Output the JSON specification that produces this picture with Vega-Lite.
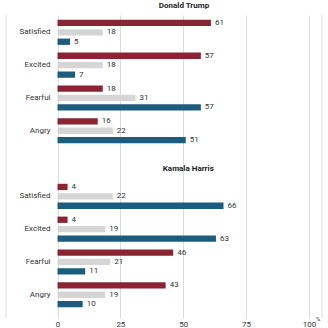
{
  "$schema": "https://vega.github.io/schema/vega-lite/v6.json",
  "width": 316,
  "height": 303,
  "autosize": {"type": "none"},
  "padding": {"left": 6, "top": 15, "right": 6, "bottom": 10},
  "background": "white",
  "config": {"font": "Roboto", "view": {"stroke": null}},
  "title": {"text": "Donald Trump", "fontSize": 8, "fontWeight": "bold", "font": "Roboto", "color": "#222", "anchor": "middle", "dx": 20, "offset": 5},
  "datasets": {
    "bars": [
      {"row": "DT|Satisfied", "series": "Trump supporters", "value": 61},
      {"row": "DT|Satisfied", "series": "Other voters", "value": 18},
      {"row": "DT|Satisfied", "series": "Harris supporters", "value": 5},
      {"row": "DT|Excited", "series": "Trump supporters", "value": 57},
      {"row": "DT|Excited", "series": "Other voters", "value": 18},
      {"row": "DT|Excited", "series": "Harris supporters", "value": 7},
      {"row": "DT|Fearful", "series": "Trump supporters", "value": 18},
      {"row": "DT|Fearful", "series": "Other voters", "value": 31},
      {"row": "DT|Fearful", "series": "Harris supporters", "value": 57},
      {"row": "DT|Angry", "series": "Trump supporters", "value": 16},
      {"row": "DT|Angry", "series": "Other voters", "value": 22},
      {"row": "DT|Angry", "series": "Harris supporters", "value": 51},
      {"row": "KH|Satisfied", "series": "Trump supporters", "value": 4},
      {"row": "KH|Satisfied", "series": "Other voters", "value": 22},
      {"row": "KH|Satisfied", "series": "Harris supporters", "value": 66},
      {"row": "KH|Excited", "series": "Trump supporters", "value": 4},
      {"row": "KH|Excited", "series": "Other voters", "value": 19},
      {"row": "KH|Excited", "series": "Harris supporters", "value": 63},
      {"row": "KH|Fearful", "series": "Trump supporters", "value": 46},
      {"row": "KH|Fearful", "series": "Other voters", "value": 21},
      {"row": "KH|Fearful", "series": "Harris supporters", "value": 11},
      {"row": "KH|Angry", "series": "Trump supporters", "value": 43},
      {"row": "KH|Angry", "series": "Other voters", "value": 19},
      {"row": "KH|Angry", "series": "Harris supporters", "value": 10}
    ],
    "heads": [
      {"row": "Kamala Harris", "label": "Kamala Harris", "value": 50}
    ]
  },
  "encoding": {
    "y": {
      "field": "row",
      "type": "nominal",
      "scale": {
        "domain": ["DT|Satisfied", "DT|Excited", "DT|Fearful", "DT|Angry", "Kamala Harris", "KH|Satisfied", "KH|Excited", "KH|Fearful", "KH|Angry"],
        "paddingInner": 0,
        "paddingOuter": 0.119,
        "align": 0.12
      },
      "axis": {
        "title": null,
        "domain": false,
        "ticks": false,
        "grid": false,
        "offset": -44,
        "labelPadding": 0,
        "labelFontSize": 8,
        "labelFont": "Roboto",
        "labelColor": "#333",
        "labelExpr": "indexof(datum.value, '|') >= 0 ? split(datum.value, '|')[1] : ''"
      }
    }
  },
  "layer": [
    {
      "data": {"name": "bars"},
      "mark": {"type": "bar"},
      "encoding": {
        "x": {
          "field": "value",
          "type": "quantitative",
          "scale": {"domain": [-20.48, 105.17], "nice": false, "zero": false},
          "axis": {
            "title": null,
            "values": [0, 25, 50, 75, 100],
            "grid": true,
            "gridColor": "#dcdcdc",
            "gridWidth": 1,
            "domain": false,
            "ticks": false,
            "labelPadding": 2,
            "labelFontSize": 8,
            "labelFont": "Roboto",
            "labelColor": "#333"
          }
        },
        "x2": {"datum": 0},
        "yOffset": {
          "field": "series",
          "type": "nominal",
          "scale": {"domain": ["Trump supporters", "Other voters", "Harris supporters"], "paddingInner": 0.33, "paddingOuter": 0.41}
        },
        "color": {
          "field": "series",
          "type": "nominal",
          "scale": {"domain": ["Trump supporters", "Other voters", "Harris supporters"], "range": ["#8a2432", "#d5d5d5", "#1c5d7d"]},
          "legend": null
        }
      }
    },
    {
      "data": {"name": "bars"},
      "mark": {"type": "text", "align": "left", "baseline": "middle", "dx": 4, "fontSize": 8, "font": "Roboto", "color": "#333"},
      "encoding": {
        "x": {"field": "value", "type": "quantitative"},
        "yOffset": {"field": "series", "type": "nominal", "scale": {"domain": ["Trump supporters", "Other voters", "Harris supporters"], "paddingInner": 0.33, "paddingOuter": 0.41}},
        "text": {"field": "value", "type": "quantitative"}
      }
    },
    {
      "data": {"name": "heads"},
      "mark": {"type": "text", "align": "center", "baseline": "middle", "dx": 5, "dy": 5, "fontSize": 8, "fontWeight": "bold", "font": "Roboto", "color": "#222"},
      "encoding": {
        "x": {"field": "value", "type": "quantitative"},
        "text": {"field": "label", "type": "nominal"}
      }
    },
    {
      "data": {"values": [{"edge": -20.48}, {"edge": 105.17}]},
      "mark": {"type": "rule", "color": "#dcdcdc", "strokeWidth": 1},
      "encoding": {
        "x": {"field": "edge", "type": "quantitative"},
        "y": null
      }
    },
    {
      "data": {"values": [{"value": 100, "row": "KH|Angry", "sign": "%"}]},
      "mark": {"type": "text", "align": "left", "baseline": "middle", "dx": 7, "dy": 24, "fontSize": 6, "font": "Roboto", "color": "#333"},
      "encoding": {
        "x": {"field": "value", "type": "quantitative"},
        "text": {"field": "sign", "type": "nominal"}
      }
    }
  ]
}
